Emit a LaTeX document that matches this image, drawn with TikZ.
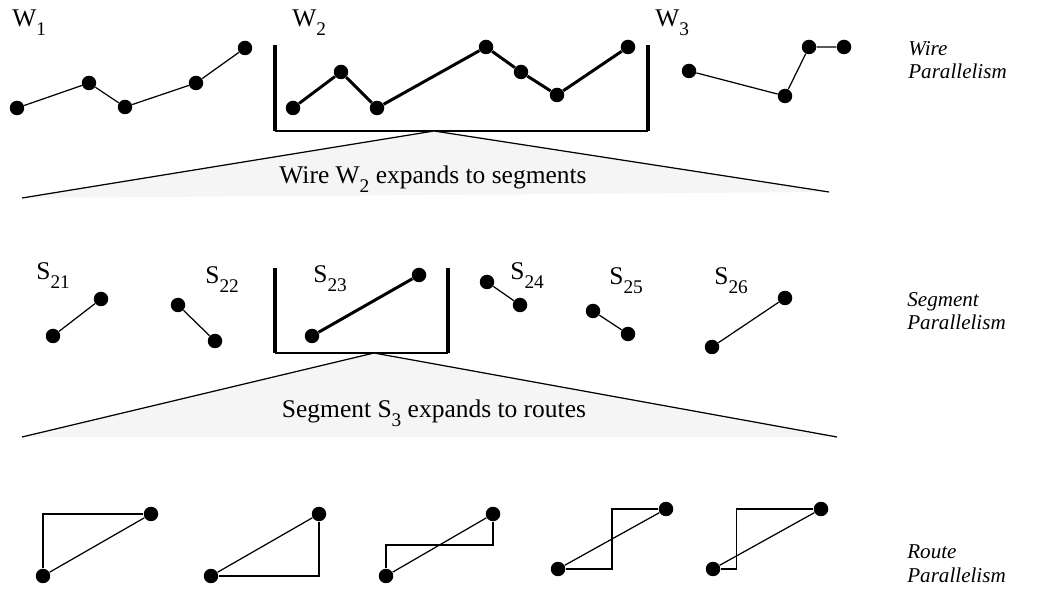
\documentclass[tikz,border=0pt]{standalone}
\usepackage{fontspec}
\setmainfont{Liberation Serif}
\usetikzlibrary{calc}

\newcommand{\idx}[1]{\raisebox{-0.32em}{\fontsize{11}{11}\selectfont #1}}

\tikzset{
	pt/.style={circle, fill=black, inner sep=0pt, minimum size=0.29cm},
	fin/.style={line width=0.7pt},
	gras/.style={line width=1.7pt},
	bord/.style={line width=2.2pt},
	fond/.style={line width=1.1pt},
	cone/.style={fill=gray!8, draw=none},
	etiq/.style={anchor=base west, inner sep=0pt, font=\fontsize{14.5}{16}\selectfont},
	legende/.style={anchor=base, inner sep=0pt, font=\fontsize{14.5}{16}\selectfont},
	niveau/.style={anchor=base west, inner sep=0pt, align=left, font=\fontsize{12}{13.6}\selectfont\itshape},
}

\begin{document}
\begin{tikzpicture}[x=0.02cm, y=-0.02cm]
	\useasboundingbox (0,0) rectangle (1047,590);

	% Fils
	\foreach \n/\x/\y in {a/17/108, b/89/83, c/125/107, d/196/83, e/245/48}
	\node[pt] (w1\n) at (\x,\y) {};
	\foreach \n/\x/\y in {a/293/108, b/341/72, c/377/108, d/486/47, e/521/72, f/557/95, g/628/47}
	\node[pt] (w2\n) at (\x,\y) {};
	\foreach \n/\x/\y in {a/689/71, b/785/96, c/809/47, d/844/47}
	\node[pt] (w3\n) at (\x,\y) {};

	\draw[fin] (w1a) -- (w1b) -- (w1c) -- (w1d) -- (w1e);
	\draw[gras] (w2a) -- (w2b) -- (w2c) -- (w2d) -- (w2e) -- (w2f) -- (w2g);
	\draw[fin] (w3a) -- (w3b) -- (w3c) -- (w3d);

	\node[etiq] (lw1) at (12,27) {W\idx{1}};
	\node[etiq] (lw2) at (292,27) {W\idx{2}};
	\node[etiq] (lw3) at (655,27) {W\idx{3}};

	% Cadre autour de W2
	\draw[bord] (275,45) -- (275,131);
	\draw[bord] (648,45) -- (648,131);
	\draw[fond] (275,131) -- (648,131);

	% Expansion du fil
	\coordinate (h1) at (434,131);
	\coordinate (g1) at (22,198);
	\coordinate (d1) at (829,192);
	\fill[cone] (h1) -- (g1) -- (d1) -- cycle;
	\draw[fin] (g1) -- (h1) -- (d1);
	\node[legende] (tx1) at (433,184) {Wire W\idx{2} expands to segments};

	% Segments
	\foreach \n/\x/\y in {a/53/336, b/101/299}
	\node[pt] (s21\n) at (\x,\y) {};
	\foreach \n/\x/\y in {a/178/305, b/215/341}
	\node[pt] (s22\n) at (\x,\y) {};
	\foreach \n/\x/\y in {a/312/336, b/419/275}
	\node[pt] (s23\n) at (\x,\y) {};
	\foreach \n/\x/\y in {a/487/282, b/520/305}
	\node[pt] (s24\n) at (\x,\y) {};
	\foreach \n/\x/\y in {a/593/311, b/628/334}
	\node[pt] (s25\n) at (\x,\y) {};
	\foreach \n/\x/\y in {a/712/347, b/785/298}
	\node[pt] (s26\n) at (\x,\y) {};

	\draw[fin] (s21a) -- (s21b);
	\draw[fin] (s22a) -- (s22b);
	\draw[gras] (s23a) -- (s23b);
	\draw[fin] (s24a) -- (s24b);
	\draw[fin] (s25a) -- (s25b);
	\draw[fin] (s26a) -- (s26b);

	\node[etiq] (ls21) at (36,280) {S\idx{21}};
	\node[etiq] (ls22) at (205,284) {S\idx{22}};
	\node[etiq] (ls23) at (313,283) {S\idx{23}};
	\node[etiq] (ls24) at (510,280) {S\idx{24}};
	\node[etiq] (ls25) at (609,285) {S\idx{25}};
	\node[etiq] (ls26) at (714,285) {S\idx{26}};

	% Cadre autour de S23
	\draw[bord] (275,268) -- (275,353);
	\draw[bord] (448,268) -- (448,353);
	\draw[fond] (275,353) -- (448,353);

	% Expansion du segment
	\coordinate (h2) at (374,353);
	\coordinate (g2) at (22,437);
	\coordinate (d2) at (837,437);
	\fill[cone] (h2) -- (g2) -- (d2) -- cycle;
	\draw[fin] (g2) -- (h2) -- (d2);
	\node[legende] (tx2) at (434,418) {Segment S\idx{3} expands to routes};

	% Routes
	\foreach \r/\xa/\ya/\xb/\yb in {1/43/576/151/514, 2/211/576/319/514, 3/386/576/493/514, 4/558/569/666/509, 5/713/569/821/509}
	{
		\node[pt] (r\r a) at (\xa,\ya) {};
		\node[pt] (r\r b) at (\xb,\yb) {};
		\draw[fin] (r\r a) -- (r\r b);
	}
	\draw[fin] (r1a) |- (r1b);
	\draw[fin] (r2a) -| (r2b);
	\draw[fin] (r3a) |- ($(r3a)!.5!(r3b)$) -| (r3b);
	\draw[fin] (r4a) -| ($(r4a)!.5!(r4b)$) |- (r4b);
	\draw[fin] (r5a) -| ($(r5a)!.22!(r5b)$) |- (r5b);

	% Niveaux
	\node[niveau] (nw) at (908,79) {Wire\\Parallelism};
	\node[niveau] (ns) at (907,330) {Segment\\Parallelism};
	\node[niveau] (nr) at (907,582) {Route\\Parallelism};
\end{tikzpicture}
\end{document}
